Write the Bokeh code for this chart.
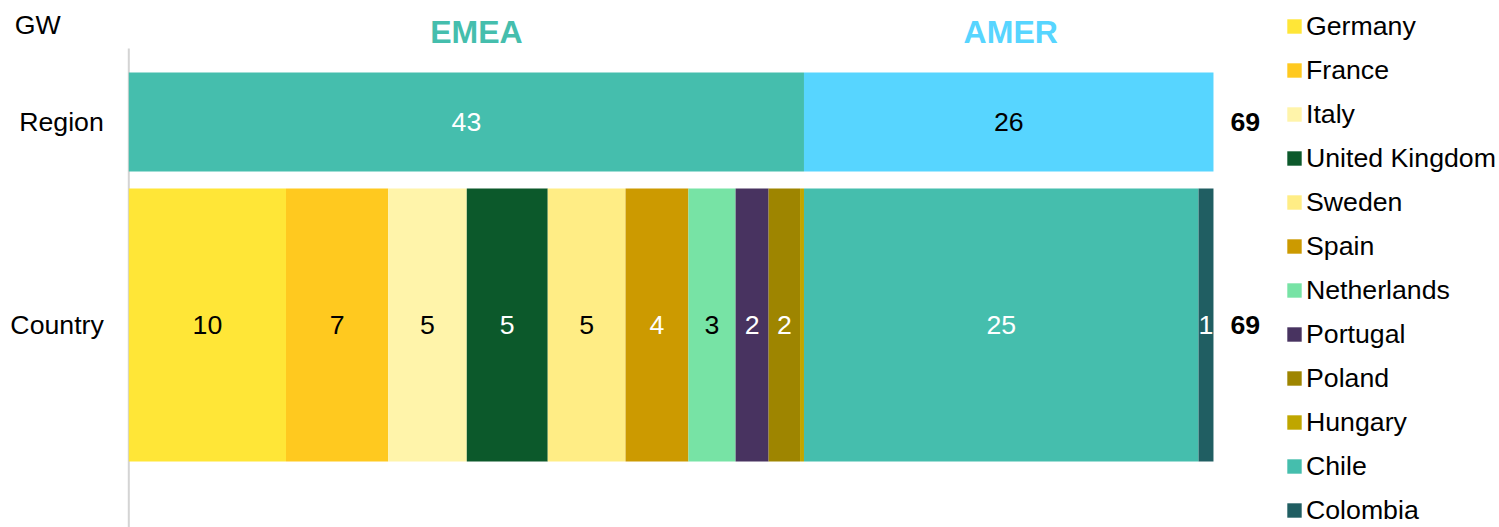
import numpy as np
from bokeh.plotting import figure
from bokeh.models import ColumnDataSource, Range1d, Legend, LegendItem
from bokeh.core.properties import value
from bokeh.embed import file_html
from bokeh.resources import INLINE

# ---------------- data ----------------
regions = ["EMEA", "AMER"]
region_gw = [42.95, 26.05]
region_labels = ["43", "26"]

countries = ["Germany", "France", "Italy", "United Kingdom", "Sweden", "Spain",
             "Netherlands", "Portugal", "Poland", "Hungary", "Chile", "Colombia"]
country_gw = [10.0, 6.5, 5.0, 5.15, 4.95, 4.0, 3.0, 2.1, 2.0, 0.25, 25.1, 0.95]
country_labels = ["10", "7", "5", "5", "5", "4", "3", "2", "2", "", "25", "1"]

row_names = ["Region", "Country"]
total_label = "69"
unit_label = "GW"

# ---------------- style ----------------
FONT = "Liberation Sans"
FS = "26.7px"
region_colors = ["#45BEAD", "#57D5FF"]
region_text_colors = ["#FFFFFF", "#000000"]
country_colors = ["#FFE637", "#FFC91F", "#FFF4AA", "#0C592B", "#FFED85", "#CC9A00",
                  "#77E3A5", "#483360", "#9E8500", "#BFA600", "#45BEAD", "#205E62"]
country_text_colors = ["#000000", "#000000", "#000000", "#FFFFFF", "#000000", "#FFFFFF",
                       "#000000", "#FFFFFF", "#FFFFFF", "#FFFFFF", "#FFFFFF", "#FFFFFF"]
header_x_offsets = [10, 2]

# ---------------- layout ----------------
W, H = 1499, 527
ORIGIN_PX = 128.3          # where 0 GW sits, in canvas pixels
PX_PER_GW = 15.72
x_start = -ORIGIN_PX / PX_PER_GW
x_end = (W - ORIGIN_PX) / PX_PER_GW

Y_START, Y_END = -0.9975, 1.5985
AXIS_TOP = 1.362
HEADER_Y = 1.441
UNIT_Y = 1.480
REGION_Y, COUNTRY_Y = 1, 0
REGION_H, COUNTRY_H = 0.488, 1.345
row_y = [REGION_Y, COUNTRY_Y]

# ---------------- sources ----------------
r_right = np.cumsum(region_gw)
r_left = r_right - np.array(region_gw)
rsrc = ColumnDataSource(dict(
    left=r_left, right=r_right, mid=(r_left + r_right) / 2,
    name=regions, label=region_labels, color=region_colors,
    tcolor=region_text_colors, xoff=header_x_offsets))

c_right = np.cumsum(country_gw)
c_left = c_right - np.array(country_gw)
csrc = ColumnDataSource(dict(
    left=c_left, right=c_right, mid=(c_left + c_right) / 2,
    name=countries, label=country_labels, color=country_colors,
    tcolor=country_text_colors))

total = float(np.sum(region_gw))

p = figure(width=W, height=H, x_range=Range1d(x_start, x_end),
           y_range=Range1d(Y_START, Y_END),
           output_backend="svg", toolbar_location=None,
           x_axis_location=None, y_axis_location=None,
           min_border_left=0, min_border_right=0,
           min_border_top=0, min_border_bottom=0)
p.outline_line_color = None
p.xgrid.visible = False
p.ygrid.visible = False

# category axis line
p.segment(x0=[0], y0=[Y_START], x1=[0], y1=[AXIS_TOP],
          line_color="#D4D4D4", line_width=2)

p.hbar(y=REGION_Y, left="left", right="right", height=REGION_H,
       fill_color="color", line_color=None, source=rsrc)
crend = p.hbar(y=COUNTRY_Y, left="left", right="right", height=COUNTRY_H,
               fill_color="color", line_color=None, source=csrc)

common = dict(text_font=value(FONT), text_font_size=FS,
              text_align="center", text_baseline="middle")
p.text(x="mid", y=REGION_Y, text="label", text_color="tcolor", source=rsrc, **common)
p.text(x="mid", y=COUNTRY_Y, text="label", text_color="tcolor", source=csrc, **common)

# totals
p.text(x=[total, total], y=row_y, text=[total_label, total_label],
       x_offset=17, text_align="left", text_baseline="middle",
       text_font=value(FONT), text_font_size=FS, text_font_style="bold",
       text_color="#000000")

# region headers
p.text(x="mid", y=HEADER_Y, text="name", text_color="color", x_offset="xoff",
       text_align="center", text_baseline="middle", text_font=value(FONT),
       text_font_size="32px", text_font_style="bold", source=rsrc)

# row (category) labels
p.text(x=[0, 0], y=row_y, text=row_names, x_offset=-25,
       text_align="right", text_baseline="middle", text_font=value(FONT),
       text_font_size=FS, text_color="#000000")

# unit label
p.text(x=[0], y=[UNIT_Y], text=[unit_label], x_offset=-114,
       text_align="left", text_baseline="middle", text_font=value(FONT),
       text_font_size=FS, text_color="#000000")

# legend
items = [LegendItem(label=c, renderers=[crend], index=i) for i, c in enumerate(countries)]
legend = Legend(items=items, location=(1285, 1), orientation="vertical",
                glyph_width=18, glyph_height=18, label_height=32,
                spacing=12, padding=0, margin=0, label_standoff=3,
                border_line_color=None, background_fill_alpha=0,
                label_text_font=FONT, label_text_font_size=FS,
                label_text_color="#000000")
p.add_layout(legend)

open("out.html", "w").write(file_html(p, INLINE))
